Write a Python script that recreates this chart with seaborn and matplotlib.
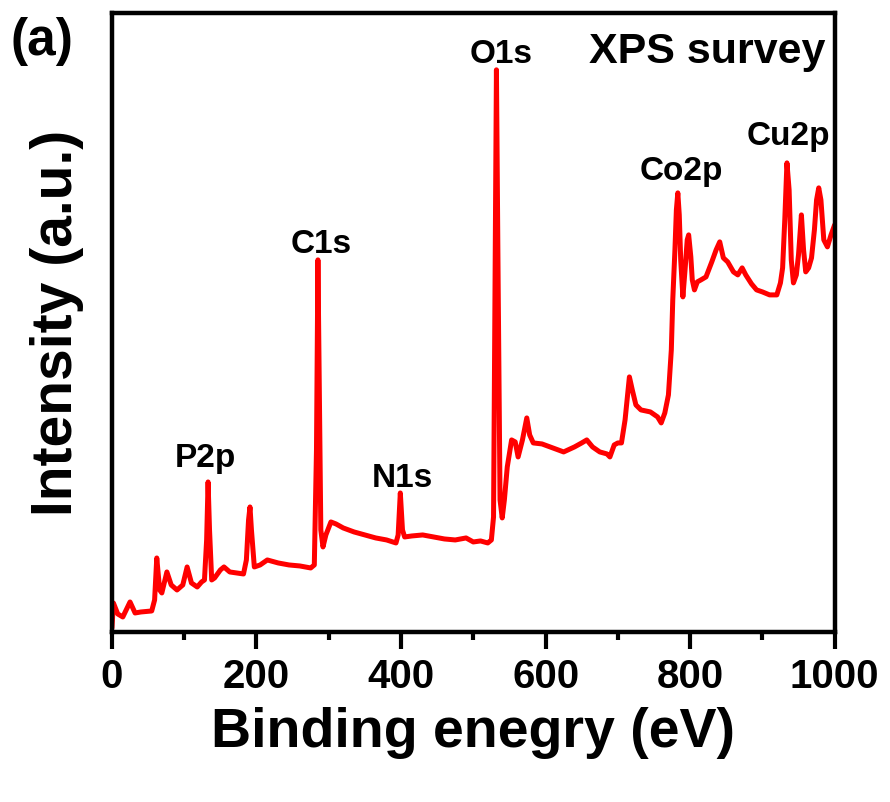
import matplotlib
matplotlib.use('Agg')
import matplotlib.pyplot as plt
import seaborn as sns
import pandas as pd
from matplotlib.ticker import MultipleLocator

# XPS survey spectrum (intensity in a.u.)
energy = [0, 2, 8, 15, 25, 32, 40, 55, 59, 62, 66, 69, 76, 82, 90, 98, 104, 110, 118, 124,
          128, 131, 133, 135, 138, 142, 150, 155, 163, 172, 182, 186, 189, 191, 193, 197, 205,
          215, 230, 245, 260, 275, 280, 283, 285, 287, 289, 292, 296, 303, 310, 320, 335, 350,
          365, 380, 393, 396, 399, 402, 405, 415, 430, 445, 460, 475, 490, 500, 510, 520, 525,
          528, 530, 532, 534, 537, 540, 543, 547, 553, 558, 562, 568, 574, 578, 583, 595, 610,
          625, 640, 650, 657, 665, 675, 685, 689, 695, 700, 705, 710, 716, 720, 725, 732, 745,
          755, 760, 765, 770, 774, 776, 779, 781, 783, 785, 787, 790, 793, 796, 798, 801, 803,
          806, 810, 815, 822, 830, 836, 841, 846, 852, 860, 866, 872, 877, 885, 892, 900, 910,
          920, 925, 928, 931, 934, 937, 940, 943, 947, 950, 954, 957, 960, 964, 968, 972, 975,
          978, 981, 985, 990, 995, 1000]
intensity = [4, 29, 18, 15, 30, 19, 20, 21, 32, 74, 42, 39, 60, 47, 42, 47, 65, 49, 45, 50,
             52, 92, 150, 102, 52, 54, 62, 65, 60, 59, 58, 72, 112, 125, 102, 65, 67,
             72, 69, 67, 66, 64, 67, 182, 372, 232, 102, 85, 97, 110, 108, 104, 100, 97,
             94, 92, 89, 97, 139, 102, 95, 96, 97, 95, 93, 92, 94, 90, 91, 89, 92,
             115, 332, 562, 382, 132, 114, 132, 165, 192, 190, 175, 192, 214, 197, 189, 188, 184,
             180, 185, 189, 192, 185, 180, 178, 175, 187, 189, 189, 212, 255, 242, 227, 222, 220,
             215, 209, 219, 237, 282, 332, 382, 422, 439, 417, 372, 335, 362, 392, 397, 375, 352,
             342, 350, 352, 355, 370, 382, 390, 374, 370, 360, 357, 364, 357, 348, 342, 340, 337,
             337, 349, 364, 412, 469, 442, 372, 349, 357, 377, 417, 382, 360, 364, 374, 402, 432,
             444, 432, 392, 385, 397, 407]

peak_names = ['P2p', 'C1s', 'N1s', 'O1s', 'Co2p', 'Cu2p']
label_x = [129, 289, 402, 538, 788, 936]
label_y = [165, 379, 145, 569, 452, 487]

sns.set_theme(style='ticks')
plt.rcParams['font.family'] = ['Liberation Sans', 'DejaVu Sans']
plt.rcParams['font.weight'] = 'bold'
plt.rcParams['text.color'] = 'black'
plt.rcParams['axes.labelcolor'] = 'black'
plt.rcParams['xtick.color'] = 'black'
plt.rcParams['ytick.color'] = 'black'

df = pd.DataFrame({'Binding energy': energy, 'Intensity': intensity})

fig = plt.figure(figsize=(8.9, 8.02), dpi=100)
ax = fig.add_axes([0.1258, 0.212, 0.812, 0.772])
sns.lineplot(data=df, x='Binding energy', y='Intensity', ax=ax, color='#ff0000', linewidth=3.6)

ax.set_xlim(0, 1000)
ax.set_ylim(0, 619)
ax.set_yticks([])
ax.xaxis.set_major_locator(MultipleLocator(200))
ax.xaxis.set_minor_locator(MultipleLocator(100))
ax.tick_params(axis='x', which='major', length=12, width=3, direction='out', labelsize=29, pad=7)
ax.tick_params(axis='x', which='minor', length=6, width=3, direction='out')
for s in ax.spines.values():
    s.set_linewidth(3.2)
    s.set_color('black')

ax.set_xlabel('Binding enegry (eV)', fontsize=40, fontweight='bold', labelpad=8)
ax.set_ylabel('Intensity (a.u.)', fontsize=41, fontweight='bold', labelpad=20)

for name, x, y in zip(peak_names, label_x, label_y):
    ax.text(x, y, name, ha='center', va='baseline', fontsize=24, fontweight='bold')
ax.text(823, 569, 'XPS survey', ha='center', va='baseline', fontsize=31, fontweight='bold')
fig.text(42 / 890, 1 - 42 / 802, '(a)', ha='center', va='center', fontsize=37, fontweight='bold')

fig.savefig('out.png', dpi=100)
